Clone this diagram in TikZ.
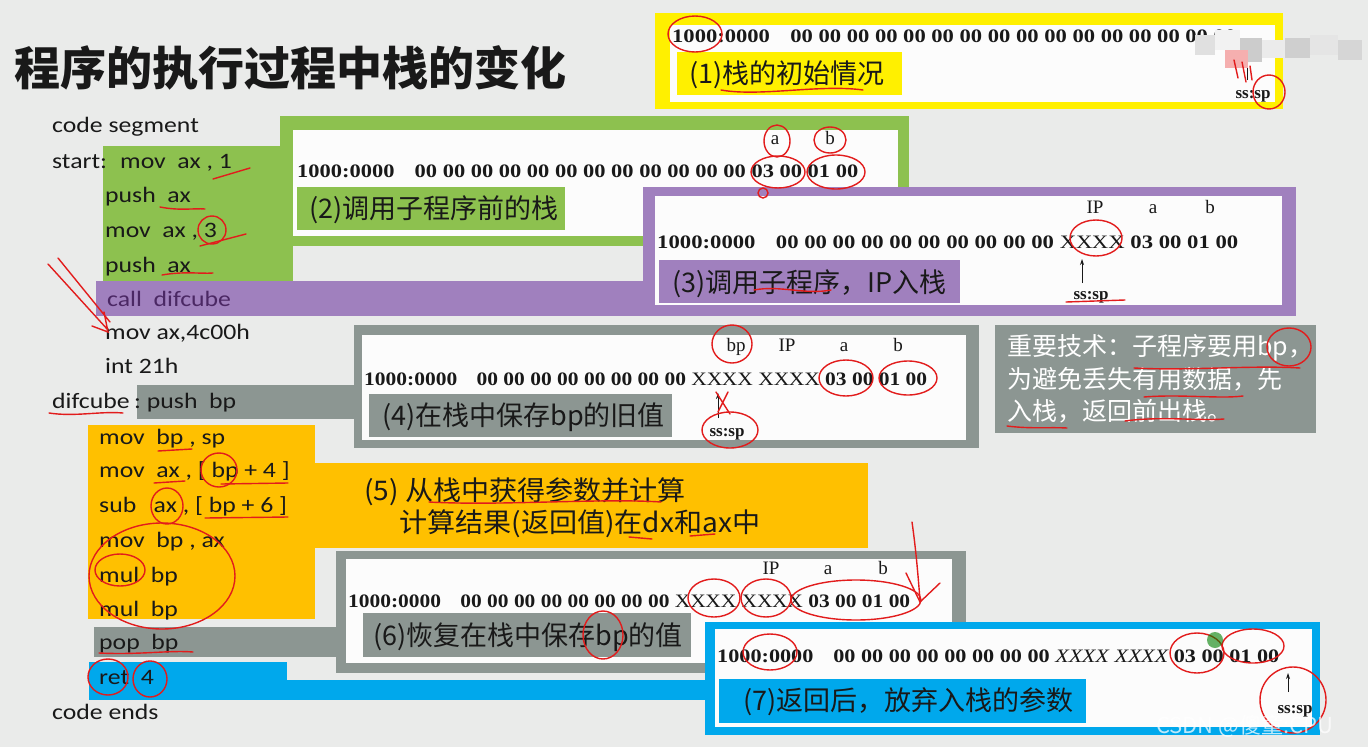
\documentclass[tikz,border=0pt]{standalone}
\usepackage{fontspec}
\usepackage{graphicx}
\setmainfont{Carlito}
\newfontfamily\cjk{Noto Sans CJK SC}
\newfontfamily\tnr{Liberation Serif}
\usetikzlibrary{arrows.meta}
\definecolor{bg}{RGB}{234,235,234}
\definecolor{gr}{RGB}{141,193,79}
\definecolor{yl}{RGB}{255,240,0}
\definecolor{pu}{RGB}{160,128,190}
\definecolor{gy}{RGB}{140,150,146}
\definecolor{og}{RGB}{255,192,0}
\definecolor{bl}{RGB}{0,168,236}
\definecolor{rd}{RGB}{226,28,28}
\definecolor{ink}{RGB}{25,25,25}
\definecolor{callc}{RGB}{75,40,100}
\definecolor{wh}{RGB}{252,252,252}
\newcommand\cs[1]{\scalebox{1.17}[1]{#1}}
\newcommand\stk{\tnr\bfseries\fontsize{19}{19}\selectfont}
\newcommand\xx{{\mdseries XX\kern-0.5pt XX}}
\tikzset{
  code/.style={anchor=base west, inner sep=0pt, text=ink, font=\fontsize{22}{22}\selectfont},
  lbl/.style={anchor=base west, inner sep=0pt, text=ink, font=\cjk\fontsize{27}{27}\selectfont},
  row/.style={anchor=base west, inner sep=0pt, text=ink},
  hdr/.style={anchor=base, inner sep=0pt, text=ink, font=\tnr\fontsize{19}{19}\selectfont},
  sssp/.style={anchor=base, inner sep=0pt, text=ink, font=\tnr\bfseries\fontsize{17}{17}\selectfont},
  ann/.style={draw=rd, line width=1.4pt, line cap=round},
  ptr/.style={draw=ink, line width=0.8pt, -{Stealth[length=6pt,width=4pt]}}
}
\begin{document}
\begin{tikzpicture}[x=1pt,y=-1pt]
\useasboundingbox (0,0) rectangle (1368,747);
\fill[bg] (0,0) rectangle (1368,747);

% ---------- coloured frames ----------
% (1) yellow
\fill[yl] (655,13) rectangle (1283,109);
\fill[wh] (670,25) rectangle (1275,102);
% (2) green
\fill[gr] (103,146) rectangle (293,281);
\fill[gr] (280,116) rectangle (909,246);
\fill[wh] (293,130) rectangle (898,236);
% (3) purple
\fill[pu] (96,281) rectangle (644,316);
\fill[pu] (643,187) rectangle (1296,316);
\fill[wh] (655,196) rectangle (1282,305);
% (4) gray
\fill[gy] (137,385) rectangle (355,419);
\fill[gy] (354,325) rectangle (979,448);
\fill[wh] (362,335) rectangle (966,440);
% note
\fill[gy] (995,325) rectangle (1316,433);
% (5) orange
\fill[og] (88,425) rectangle (315,619);
\fill[og] (315,463) rectangle (868,548);
% (6) gray
\fill[gy] (94,627) rectangle (337,657);
\fill[gy] (336,551) rectangle (966,673);
\fill[wh] (346,559) rectangle (952,663);
% (7) blue
\fill[bl] (89,662) rectangle (287,700);
\fill[bl] (89,680) rectangle (706,700);
\fill[bl] (705,622) rectangle (1320,735);
\fill[wh] (715,629) rectangle (1312,727);

% label boxes
\fill[yl] (677,52) rectangle (902,95);
\fill[gr] (297,187) rectangle (565,230);
\fill[pu] (659,260) rectangle (960,303);
\fill[gy] (369,394) rectangle (672,437);
\fill[gy] (363,613) rectangle (691,657);
\fill[bl] (719,679) rectangle (1086,723);

% ---------- title ----------
\node[anchor=base west, inner sep=0pt, text=ink, font=\cjk\bfseries\fontsize{46}{46}\selectfont] (title) at (14,85) {程序的执行过程中栈的变化};

% ---------- code ----------
\node[code] (c1) at (52,132) {\cs{code segment}};
\node[code] (c2a) at (52,168) {\cs{start:}};
\node[code] (c2) at (120,168) {\cs{mov\ \ ax\ ,\ 1}};
\node[code] (c3) at (105,202) {\cs{push\ \ ax}};
\node[code] (c4) at (105,237) {\cs{mov\ \ ax\ ,\ 3}};
\node[code] (c5) at (105,272) {\cs{push\ \ ax}};
\node[code, text=callc] (c6) at (107,306) {\cs{call\ \ difcube}};
\node[code] (c7) at (105,339) {\cs{mov ax,4c00h}};
\node[code] (c8) at (105,373) {\cs{int 21h}};
\node[code] (c9a) at (52,408) {\cs{difcube}};
\node[code] (c9) at (134,408) {\cs{:\ push\ \ bp}};
\node[code] (c10) at (99,444) {\cs{mov\ \ bp\ ,\ sp}};
\node[code] (c11) at (99,477) {\cs{mov\ \ ax\ ,\ [\ bp\ +\ 4\ ]}};
\node[code] (c12) at (99,512) {\cs{sub\ \ \ ax\ ,\ [\ bp\ +\ 6\ ]}};
\node[code] (c13) at (99,547) {\cs{mov\ \ bp\ ,\ ax}};
\node[code] (c14) at (99,582) {\cs{mul\ \ bp}};
\node[code] (c15) at (99,616) {\cs{mul\ \ bp}};
\node[code] (c16) at (99,649) {\cs{pop\ \ bp}};
\node[code] (c17) at (99,684) {\cs{ret\ \ 4}};
\node[code] (c18) at (52,719) {\cs{code ends}};

% ---------- stack rows ----------
\node[row] (s1) at (672,42) {\resizebox{564pt}{\height}{\stk 1000:0000\hspace{0.9em}00 00 00 00 00 00 00 00 00 00 00 00 00 00 00 00}};
\node[row] (s2) at (297,177) {\resizebox{561pt}{\height}{\stk 1000:0000\hspace{0.9em}00 00 00 00 00 00 00 00 00 00 00 00 03 00 01 00}};
\node[row] (s3) at (657,248) {\resizebox{581pt}{\height}{\stk 1000:0000\hspace{0.9em}00 00 00 00 00 00 00 00 00 00 \xx{} 03 00 01 00}};
\node[row] (s4) at (364,385) {\resizebox{563pt}{\height}{\stk 1000:0000\hspace{0.9em}00 00 00 00 00 00 00 00 \xx{} \xx{} 03 00 01 00}};
\node[row] (s6) at (348,607) {\resizebox{562pt}{\height}{\stk 1000:0000\hspace{0.9em}00 00 00 00 00 00 00 00 \xx{} \xx{} 03 00 01 00}};
\node[row] (s7) at (717,662) {\resizebox{562pt}{\height}{\stk 1000:0000\hspace{0.9em}00 00 00 00 00 00 00 00 {\itshape\xx{} \xx{}} 03 00 01 00}};

% headers
\node[hdr] (h2a) at (775,144) {a};
\node[hdr] (h2b) at (830,144) {b};
\node[hdr] (h3ip) at (1095,213) {IP};
\node[hdr] (h3a) at (1153,213) {a};
\node[hdr] (h3b) at (1210,213) {b};
\node[hdr] (h4bp) at (736,351) {bp};
\node[hdr] (h4ip) at (787,351) {IP};
\node[hdr] (h4a) at (844,351) {a};
\node[hdr] (h4b) at (898,351) {b};
\node[hdr] (h6ip) at (771,574) {IP};
\node[hdr] (h6a) at (828,574) {a};
\node[hdr] (h6b) at (883,574) {b};

% ss:sp pointers
\node[sssp] (p1) at (1253,98) {ss:sp};
\node[sssp] (p3) at (1091,299) {ss:sp};
\node[sssp] (p4) at (727,436) {ss:sp};
\node[sssp] (p7) at (1295,713) {ss:sp};
\coordinate (t1) at (1247,56);
\coordinate (t3) at (1082,259);
\coordinate (t4) at (718,393);
\coordinate (t7) at (1288,673);
\draw[ptr] (1247,80) -- (t1);
\draw[ptr] (1082,283) -- (t3);
\draw[ptr] (718,418) -- (t4);
\draw[ptr] (1288,692) -- (t7);

% ---------- labels ----------
\node[lbl] (l1) at (689,83) {(1)栈的初始情况};
\node[lbl] (l2) at (309,218) {(2)调用子程序前的栈};
\node[lbl] (l3) at (672,292) {(3)调用子程序，IP入栈};
\node[lbl] (l4) at (382,425) {(4)在栈中保存bp的旧值};
\node[lbl] (l5a) at (364,500) {\scalebox{1.04}[1]{(5) 从栈中获得参数并计算}};
\node[lbl] (l5b) at (399,532) {\scalebox{1.04}[1]{计算结果(返回值)在dx和ax中}};
\node[lbl] (l6) at (373,645) {(6)恢复在栈中保存bp的值};
\node[lbl] (l7) at (743,710) {(7)返回后，放弃入栈的参数};
\node[lbl, text=white, font=\cjk\fontsize{25}{25}\selectfont] (n1) at (1007,355) {重要技术：子程序要用bp，};
\node[lbl, text=white, font=\cjk\fontsize{25}{25}\selectfont] (n2) at (1007,388) {为避免丢失有用数据，先};
\node[lbl, text=white, font=\cjk\fontsize{25}{25}\selectfont] (n3) at (1007,420) {入栈，返回前出栈。};

% mosaic (blurred area)
\fill[black!12] (1195,35) rectangle (1215,55);
\fill[black!5] (1215,30) rectangle (1240,50);
\fill[black!20] (1240,38) rectangle (1262,62);
\fill[rd!35] (1225,50) rectangle (1248,68);
\fill[black!8] (1262,40) rectangle (1285,58);
\fill[black!19] (1285,38) rectangle (1310,58);
\fill[black!10] (1310,35) rectangle (1338,55);
\fill[black!16] (1338,40) rectangle (1362,60);

% ---------- red annotations ----------
% stage 1
\draw[ann] (695,34) ellipse [x radius=27pt, y radius=18pt];
\draw[ann] (721,90) .. controls (760,97) and (820,84) .. (863,90);
\draw[ann] (1269,92) ellipse [x radius=16pt, y radius=17pt];
\draw[ann] (1234,60) -- (1238,78) (1242,62) -- (1246,82) (1250,66) -- (1252,80);
% stage 2
\draw[ann] (777,141) ellipse [x radius=13pt, y radius=16pt];
\draw[ann] (830,140) ellipse [x radius=16pt, y radius=13pt];
\draw[ann] (778,172) ellipse [x radius=27pt, y radius=16pt];
\draw[ann] (836,172) ellipse [x radius=29pt, y radius=17pt];
\draw[ann] (763,193) circle [radius=5pt];
% code (2)
\draw[ann] (213,179) -- (250,168);
\draw[ann] (160,207) .. controls (180,211) and (195,208) .. (205,209);
\draw[ann] (212,230) circle [radius=14pt];
\draw[ann] (200,246) -- (246,234);
\draw[ann] (162,275) .. controls (185,271) and (200,274) .. (213,273);
% arrow to mov ax,4c00h
\draw[ann] (48,264) -- (108,330) (58,258) -- (110,322) (92,326) -- (108,332) -- (104,312);
% stage 3
\draw[ann] (1096,238) ellipse [x radius=26pt, y radius=18pt];
\draw[ann] (754,290) .. controls (780,285) and (805,295) .. (831,290);
\draw[ann] (1066,302) -- (1125,300);
% stage 4
\draw[ann] (732,344) ellipse [x radius=20pt, y radius=19pt];
\draw[ann] (846,378) ellipse [x radius=27pt, y radius=18pt];
\draw[ann] (908,378) ellipse [x radius=29pt, y radius=17pt];
\draw[ann] (730,430) ellipse [x radius=28pt, y radius=18pt];
\draw[ann] (716,392) -- (730,414) (728,392) -- (718,412);
% note box
\draw[ann] (1134,368) .. controls (1190,371) and (1250,365) .. (1300,368);
\draw[ann] (1289,347) ellipse [x radius=22pt, y radius=19pt];
\draw[ann] (1144,397) .. controls (1180,394) and (1220,399) .. (1243,396);
\draw[ann] (1007,426) .. controls (1030,429) and (1050,427) .. (1067,428);
\draw[ann] (1125,421) .. controls (1160,416) and (1200,421) .. (1224,419);
% difcube
\draw[ann] (49,413) .. controls (75,417) and (100,411) .. (123,413);
% code (5)
\draw[ann] (158,451) -- (192,449);
\draw[ann] (154,483) -- (185,481);
\draw[ann] (219,470) ellipse [x radius=18pt, y radius=17pt];
\draw[ann] (221,484) -- (288,483);
\draw[ann] (167,506) ellipse [x radius=16pt, y radius=18pt];
\draw[ann] (205,518) -- (288,517);
\draw[ann] (162,576) ellipse [x radius=73pt, y radius=53pt];
\draw[ann] (120,570) ellipse [x radius=25pt, y radius=16pt];
\draw[ann] (429,502) .. controls (500,506) and (600,498) .. (661,502);
\draw[ann] (629,537) -- (652,539);
\draw[ann] (690,536) -- (715,534);
% stage 6
\draw[ann] (714,598) ellipse [x radius=26pt, y radius=19pt];
\draw[ann] (766,598) ellipse [x radius=25pt, y radius=19pt];
\draw[ann] (856,600) ellipse [x radius=65pt, y radius=20pt];
\draw[ann] (912,522) .. controls (916,550) and (918,575) .. (920,600);
\draw[ann] (906,573) -- (920,602) -- (940,583);
\draw[ann] (603,635) ellipse [x radius=20pt, y radius=24pt];
% pop / ret
\draw[ann] (99,653) .. controls (140,655) and (170,650) .. (193,652);
\draw[ann] (108,677) ellipse [x radius=20pt, y radius=18pt];
\draw[ann] (150,679) ellipse [x radius=17pt, y radius=18pt];
% stage 7
\draw[ann] (770,652) ellipse [x radius=27pt, y radius=18pt];
\draw[ann] (1197,653) ellipse [x radius=27pt, y radius=20pt];
\draw[ann] (1253,646) ellipse [x radius=31pt, y radius=17pt];
\draw[ann] (1293,700) ellipse [x radius=33pt, y radius=33pt];
\fill[green!50!black, opacity=0.6] (1215,640) circle [radius=8pt];

% watermark
\node[anchor=base west, inner sep=0pt, text=white, opacity=0.75, font=\cjk\fontsize{22}{22}\selectfont] (wm) at (1156,733) {CSDN @傻童:CPU};
\end{tikzpicture}
\end{document}
